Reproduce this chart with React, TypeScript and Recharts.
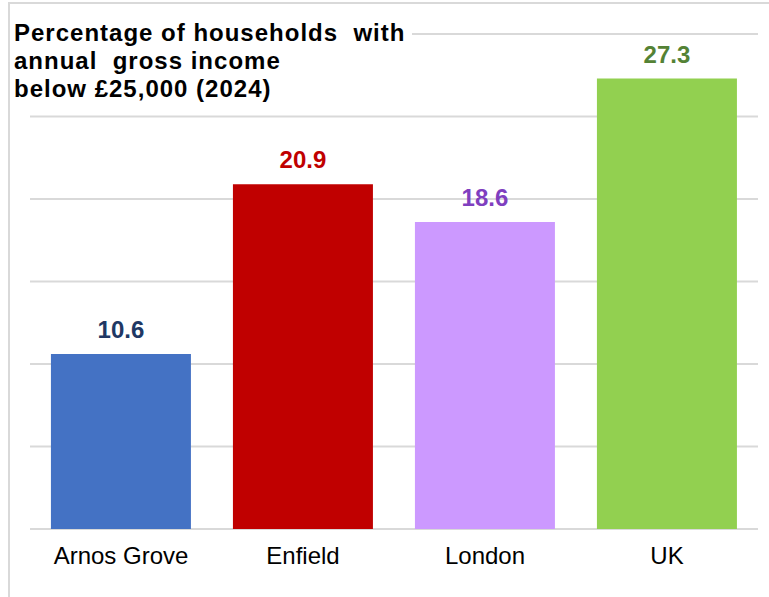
import React from "react";
import { BarChart, Bar, XAxis, YAxis, CartesianGrid, Cell, LabelList } from "recharts";

const categories = ["Arnos Grove", "Enfield", "London", "UK"];
const values = [10.6, 20.9, 18.6, 27.3];
const barColors = ["#4472C4", "#C00000", "#CC99FF", "#92D050"];
const labelColors = ["#203864", "#C00000", "#7F3FBF", "#548235"];
const yTicks = [0, 5, 10, 15, 20, 25, 30];
const titleLines = ["Percentage of households  with", "annual  gross income", "below £25,000 (2024)"];

const data = categories.map((name, i) => ({ name, value: values[i] }));

const FONT = '"Liberation Sans", Arial, sans-serif';

const renderLabel = (props: any) => {
  const { x, y, width, value, index } = props;
  return (
    <text
      x={x + width / 2}
      y={y - 16}
      textAnchor="middle"
      fontFamily={FONT}
      fontSize={24}
      fontWeight="bold"
      fill={labelColors[index]}
    >
      {Number(value).toFixed(1)}
    </text>
  );
};

export default function App() {
  return (
    <div style={{ position: "absolute", left: 0, top: 0, width: 769, height: 597, overflow: "hidden", background: "#fff" }}>
      <div
        style={{
          position: "absolute",
          left: 8,
          top: 2,
          width: 800,
          height: 640,
          border: "2px solid #d9d9d9",
          boxSizing: "border-box",
        }}
      />
      <div style={{ position: "absolute", left: 0, top: 0 }}>
        <BarChart
          width={769}
          height={597}
          data={data}
          margin={{ top: 34, right: 11, bottom: 0, left: 30 }}
          barCategoryGap="11.5%"
        >
          <CartesianGrid vertical={false} stroke="#d9d9d9" strokeWidth={2} />
          <YAxis hide domain={[0, 30]} ticks={yTicks} />
          <XAxis
            dataKey="name"
            axisLine={false}
            tickLine={false}
            tickMargin={12}
            height={68}
            interval={0}
            tick={{ fontFamily: FONT, fontSize: 24, fill: "#000" }}
          />
          <Bar dataKey="value" isAnimationActive={false}>
            {data.map((d, i) => (
              <Cell key={d.name} fill={barColors[i]} />
            ))}
            <LabelList dataKey="value" content={renderLabel} />
          </Bar>
        </BarChart>
      </div>
      <div
        style={{
          position: "absolute",
          left: 12,
          top: 15,
          width: 400,
          height: 92,
          background: "#fff",
        }}
      />
      <div
        style={{
          position: "absolute",
          left: 14,
          top: 19,
          fontFamily: FONT,
          fontSize: 24,
          fontWeight: "bold",
          lineHeight: "28px",
          letterSpacing: "1px",
          color: "#000",
          whiteSpace: "pre",
        }}
      >
        {titleLines.map((l) => (
          <div key={l}>{l}</div>
        ))}
      </div>
    </div>
  );
}
